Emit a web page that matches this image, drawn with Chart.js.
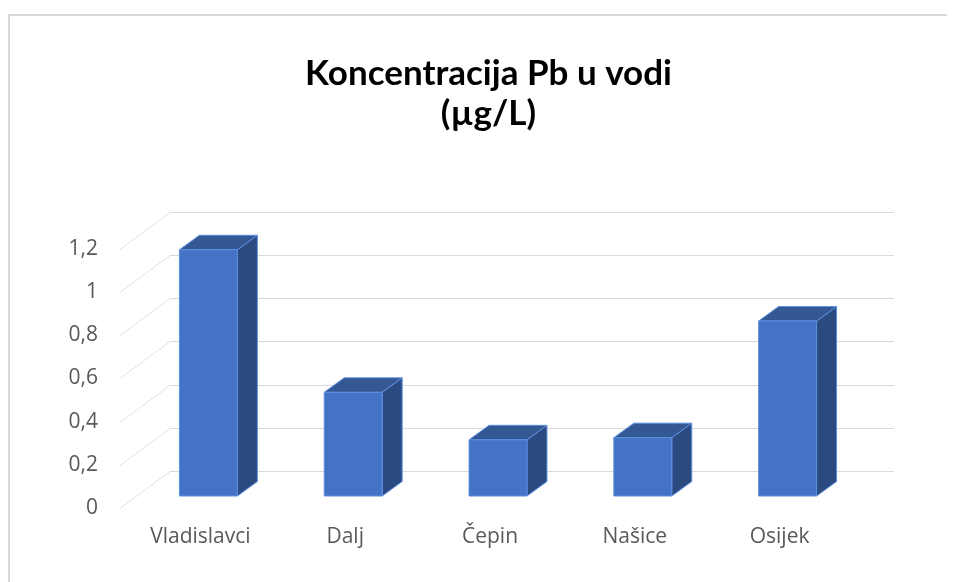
<!DOCTYPE html>
<html lang="hr">
<head>
    <meta charset="UTF-8">
    <title>Koncentracija Pb u vodi</title>
    <style>
        body { margin: 0; background: #ffffff; }
        canvas { display: block; }
    </style>
</head>
<body>
    <canvas id="pbChart" width="957" height="582"></canvas>

    <script src="https://cdn.jsdelivr.net/npm/chart.js"></script>
    <script>
        // podaci
        const mjesta = ['Vladislavci', 'Dalj', 'Čepin', 'Našice', 'Osijek'];
        const koncentracija = [1.14, 0.48, 0.26, 0.27, 0.81];
        const naslov = ['Koncentracija Pb u vodi', '(µg/L)'];
        const yMax = 1.2;
        const yKorak = 0.2;

        // pomak zadnjeg zida i stupaca (kosa projekcija)
        const DX = 50, DY = -37;
        const FX = 16, FY = -12;
        const BX = 20, BY = -14.5;

        const font = "'Open Sans'";
        const siva = '#595959';

        // okvir grafikona
        const okvir = {
            id: 'okvir',
            beforeDraw(chart) {
                const ctx = chart.ctx;
                ctx.save();
                ctx.fillStyle = '#ffffff';
                ctx.fillRect(0, 0, chart.width, chart.height);
                ctx.strokeStyle = '#d9d9d9';
                ctx.lineWidth = 2;
                ctx.beginPath();
                ctx.moveTo(9, chart.height);
                ctx.lineTo(9, 15);
                ctx.lineTo(947, 15);
                ctx.stroke();
                ctx.restore();
            }
        };

        // mreža na zadnjem i bočnom zidu
        const mreza = {
            id: 'mreza',
            beforeDatasetsDraw(chart) {
                const ctx = chart.ctx;
                const y = chart.scales.y;
                const a = chart.chartArea;
                ctx.save();
                ctx.lineWidth = 1;
                y.ticks.forEach(t => {
                    const py = Math.round(y.getPixelForValue(t.value)) + 0.5;
                    ctx.strokeStyle = '#e3e3e3';
                    ctx.beginPath();
                    ctx.moveTo(a.left, py);
                    ctx.lineTo(a.left + DX, py + DY);
                    ctx.stroke();
                    ctx.strokeStyle = '#d9d9d9';
                    ctx.beginPath();
                    ctx.moveTo(a.left + DX, py + DY);
                    ctx.lineTo(a.right + DX, py + DY);
                    ctx.stroke();
                });
                ctx.restore();
            }
        };

        // 3D stupci
        const stupci = {
            id: 'stupci',
            afterDatasetsDraw(chart) {
                const ctx = chart.ctx;
                const meta = chart.getDatasetMeta(0);
                ctx.save();
                ctx.lineWidth = 1;
                ctx.strokeStyle = '#5b8fe0';
                ctx.lineJoin = 'round';
                meta.data.forEach(bar => {
                    const p = bar.getProps(['x', 'y', 'base', 'width'], true);
                    const l = p.x - p.width / 2 + FX;
                    const r = p.x + p.width / 2 + FX;
                    const t = p.y + FY;
                    const b = p.base + FY;

                    // bok
                    ctx.fillStyle = '#2b4a80';
                    ctx.beginPath();
                    ctx.moveTo(r, t);
                    ctx.lineTo(r + BX, t + BY);
                    ctx.lineTo(r + BX, b + BY);
                    ctx.lineTo(r, b);
                    ctx.closePath();
                    ctx.fill();
                    ctx.stroke();

                    // vrh
                    ctx.fillStyle = '#345894';
                    ctx.beginPath();
                    ctx.moveTo(l, t);
                    ctx.lineTo(l + BX, t + BY);
                    ctx.lineTo(r + BX, t + BY);
                    ctx.lineTo(r, t);
                    ctx.closePath();
                    ctx.fill();
                    ctx.stroke();

                    // prednja strana
                    ctx.fillStyle = '#4472c4';
                    ctx.fillRect(l, t, r - l, b - t);
                    ctx.strokeRect(l, t, r - l, b - t);
                });
                ctx.restore();
            }
        };

        new Chart(document.getElementById('pbChart'), {
            type: 'bar',
            data: {
                labels: mjesta,
                datasets: [{
                    label: 'Pb (µg/L)',
                    data: koncentracija,
                    backgroundColor: 'rgba(0,0,0,0)',
                    borderWidth: 0,
                    categoryPercentage: 1,
                    barPercentage: 0.4
                }]
            },
            options: {
                responsive: false,
                animation: false,
                devicePixelRatio: 1,
                layout: { padding: { left: 20, right: 0, top: 0, bottom: 0 } },
                plugins: {
                    legend: { display: false },
                    tooltip: { enabled: false },
                    title: {
                        display: true,
                        text: naslov,
                        color: '#000000',
                        font: { family: "Lato", size: 35, weight: 'bold', lineHeight: 1.14 },
                        padding: { top: 54, bottom: 115 }
                    }
                },
                scales: {
                    x: {
                        grid: { display: false, drawTicks: false },
                        border: { display: false },
                        ticks: {
                            color: siva,
                            font: { family: font, size: 21 },
                            padding: 16,
                            labelOffset: 8,
                            maxRotation: 0
                        },
                        afterFit: s => { s.height = 74; }
                    },
                    y: {
                        min: 0,
                        max: yMax,
                        grid: { display: false, drawTicks: false },
                        border: { display: false },
                        ticks: {
                            stepSize: yKorak,
                            color: siva,
                            font: { family: font, size: 21 },
                            padding: 22,
                            callback: v => String(Math.round(v * 10) / 10).replace('.', ',')
                        },
                        afterFit: s => { s.width = 100; }
                    },
                    desno: {
                        position: 'right',
                        grid: { display: false, drawTicks: false },
                        border: { display: false },
                        ticks: { display: false },
                        afterFit: s => { s.width = 113; }
                    }
                }
            },
            plugins: [okvir, mreza, stupci]
        });
    </script>
</body>
</html>
